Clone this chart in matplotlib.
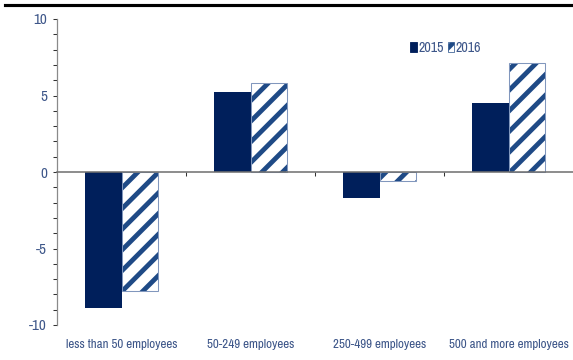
import matplotlib
matplotlib.use("Agg")
import matplotlib.pyplot as plt
from matplotlib import font_manager
from matplotlib.patches import Patch
from matplotlib.lines import Line2D
import numpy as np

# data
categories = ["less than 50 employees", "50-249 employees",
              "250-499 employees", "500 and more employees"]
years = ["2015", "2016"]
values_2015 = [-8.9, 5.2, -1.7, 4.5]
values_2016 = [-7.8, 5.8, -0.6, 7.1]

navy = "#001f5b"
stripe = "#1f4a86"
text_col = "#3d5689"

# pick the narrowest installed face
names = sorted({f.name for f in font_manager.fontManager.ttflist})
narrow = [n for n in names if "Narrow" in n or "Condensed" in n]
stretch = "normal"
if narrow:
    family = narrow[0]
else:
    family = "DejaVu Sans"
    if any(f.name == "DejaVu Sans" and f.stretch == "condensed"
           for f in font_manager.fontManager.ttflist):
        stretch = "condensed"

# low dpi so the hatch stripes come out as wide as in the original
DPI = 62
s = 75 / DPI  # sizes below were tuned at 75 dpi

plt.rcParams["font.family"] = [family, "DejaVu Sans"]
plt.rcParams["font.stretch"] = stretch
plt.rcParams["axes.unicode_minus"] = False
plt.rcParams["hatch.linewidth"] = 4.6 * s

fig = plt.figure(figsize=(573 / DPI, 360 / DPI), dpi=DPI)
ax = fig.add_axes([57 / 573, 1 - 325 / 360, 1 - 57 / 573, 306 / 360])

x = np.arange(len(categories))
w = 0.285
ax.bar(x - w / 2, values_2015, w, color=navy, zorder=2)
ax.bar(x + w / 2, values_2016, w, color="white", edgecolor=stripe,
       hatch="/", linewidth=0, zorder=2)
ax.bar(x + w / 2, values_2016, w, fill=False, edgecolor="#8197bd",
       linewidth=1.0 * s, zorder=3)

h1 = Patch(facecolor=navy, edgecolor=navy, label=years[0])
h2 = Patch(facecolor="white", edgecolor=stripe, hatch="/", linewidth=0.8,
           label=years[1])
leg = ax.legend(handles=[h1, h2], loc="center left", bbox_to_anchor=(0.66, 0.905),
                ncol=2, frameon=False, handlelength=0.45, handleheight=0.75,
                handletextpad=0.12, columnspacing=0.3, fontsize=13.5 * s,
                labelcolor=text_col)

ax.set_xlim(-0.5, len(categories) - 0.5)
ax.set_ylim(-10, 10)
ax.set_yticks([-10, -5, 0, 5, 10])
ax.set_yticks(np.arange(-10, 11, 1), minor=True)
ax.tick_params(axis="y", which="both", direction="out", length=3.5 * s,
               width=1 * s, color="#333333", labelsize=14.5 * s,
               labelcolor=text_col, pad=6 * s)

ax.spines["top"].set_visible(False)
ax.spines["right"].set_visible(False)
ax.spines["left"].set_color("#8a8a8a")
ax.spines["left"].set_linewidth(1.2 * s)
ax.spines["bottom"].set_position(("data", 0))
ax.spines["bottom"].set_color("#707070")
ax.spines["bottom"].set_linewidth(1.5 * s)
ax.spines["bottom"].set_zorder(4)

ax.set_xticks(x[:-1] + 0.5)
ax.set_xticklabels([])
ax.tick_params(axis="x", direction="out", length=4 * s, width=1 * s,
               color="#333333")

for i, c in enumerate(categories):
    ax.text(i, -0.045, c, transform=ax.get_xaxis_transform(), ha="center",
            va="top", fontsize=12.5 * s, color=text_col)

# thin black rule along the top of the picture
fig.add_artist(Line2D([5 / 573, 1], [1 - 5 / 360, 1 - 5 / 360],
                      color="black", linewidth=3 * s, zorder=100,
                      transform=fig.transFigure))

fig.savefig("out.png", dpi=DPI, facecolor="white")
